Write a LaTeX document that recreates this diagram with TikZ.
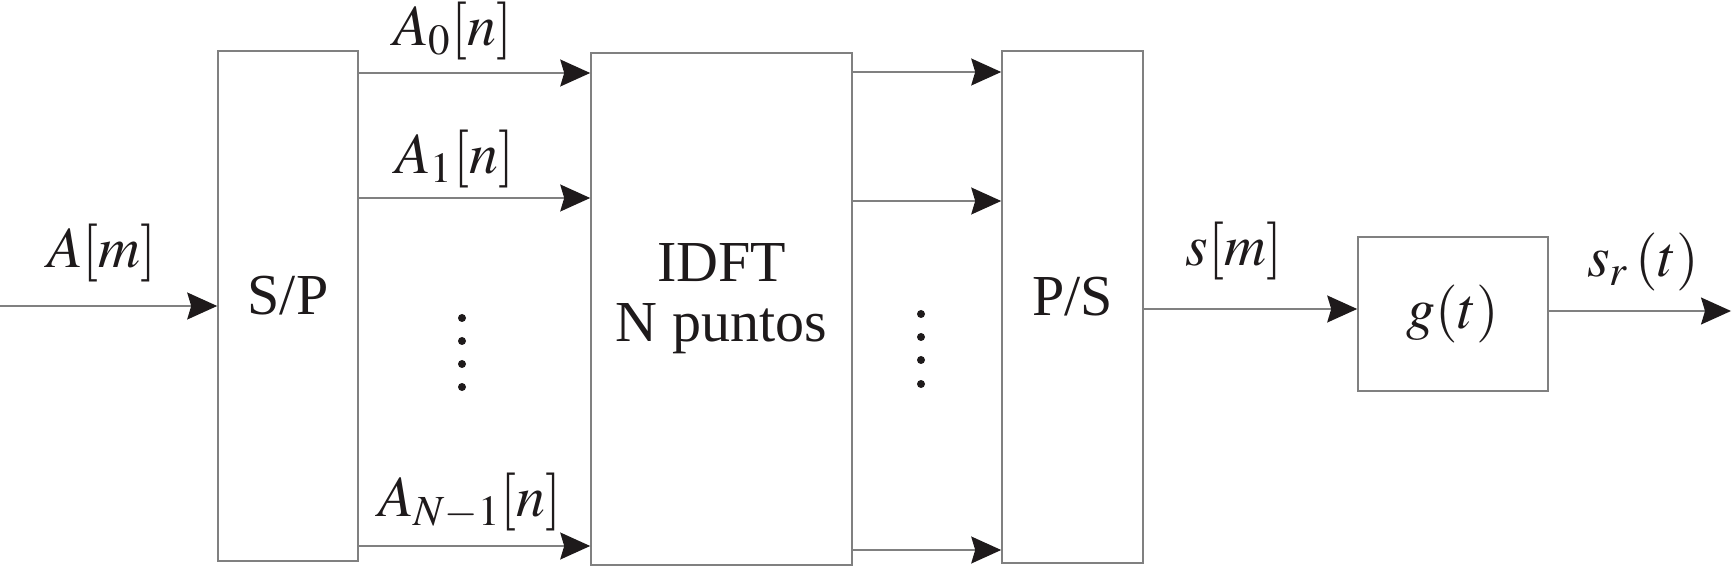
\documentclass[tikz,border=0pt]{standalone}
\usepackage{mathptmx}
\usepackage{fontspec}
\setmainfont{Liberation Serif}
\usetikzlibrary{arrows.meta}
\definecolor{ofdmline}{RGB}{128,128,128}
\definecolor{ofdmink}{RGB}{30,26,27}
\tikzset{ofdmblock/.style={draw=ofdmline,line width=0.8pt,inner sep=0pt,align=center,font=\fontsize{29}{30}\selectfont,text=ofdmink},
ofdmsig/.style={draw=ofdmline,line width=0.8pt,-{Stealth[length=15pt,width=13.5pt,inset=2pt,color=ofdmink]}},
ofdmlab/.style={inner sep=0pt,font=\fontsize{29}{30}\selectfont,text=ofdmink},
ofdmtxt/.style={label={[ofdmlab,align=center,yshift=5pt]center:#1}}}
\begin{document}
\begin{tikzpicture}[x=0.5pt,y=-0.5pt]
\useasboundingbox (0,0) rectangle (1733,566);
\node[ofdmblock,minimum width=70pt,minimum height=255pt,ofdmtxt={S/P}] (sp) at (288,306) {};
\node[ofdmblock,minimum width=130.5pt,minimum height=256pt,ofdmtxt={IDFT\\N puntos}] (idft) at (721.5,309) {};
\node[ofdmblock,minimum width=70.5pt,minimum height=256pt,ofdmtxt={P/S}] (ps) at (1072.5,307) {};
\node[ofdmblock,minimum width=95pt,minimum height=77pt] (g) at (1453,314) {$g(t)$};
% rows of the parallel branches
\coordinate (in) at (0,306);
\coordinate (r0) at (0,73);
\coordinate (r1) at (0,198);
\coordinate (rn) at (0,546);
\coordinate (q0) at (0,72);
\coordinate (q1) at (0,201);
\coordinate (qn) at (0,550);
\coordinate (sg) at (0,309);
\coordinate (out) at (1731,311);
\draw[ofdmsig] (in) -- (in -| sp.west);
\draw[ofdmsig] (sp.east |- r0) -- (idft.west |- r0);
\draw[ofdmsig] (sp.east |- r1) -- (idft.west |- r1);
\draw[ofdmsig] (sp.east |- rn) -- (idft.west |- rn);
\draw[ofdmsig] (idft.east |- q0) -- (ps.west |- q0);
\draw[ofdmsig] (idft.east |- q1) -- (ps.west |- q1);
\draw[ofdmsig] (idft.east |- qn) -- (ps.west |- qn);
\draw[ofdmsig] (ps.east |- sg) -- (g.west |- sg);
\draw[ofdmsig] (g.east |- out) -- (out);
\foreach \y in {318,341,364,387} \fill[ofdmink] (462,\y) circle (2pt);
\foreach \y in {314,337,360,384} \fill[ofdmink] (921,\y) circle (2pt);
\node[ofdmlab] (am) at (102,253) {$A[m]$};
\node[ofdmlab] (a0) at (453,31) {$A_0[n]$};
\node[ofdmlab] (a1) at (455,159) {$A_1[n]$};
\node[ofdmlab] (an) at (470,502) {$A_{N-1}[n]$};
\node[ofdmlab] (sm) at (1234,251) {$s[m]$};
\node[ofdmlab] (sr) at (1643,262) {$s_r\,(t)$};
\end{tikzpicture}
\end{document}
